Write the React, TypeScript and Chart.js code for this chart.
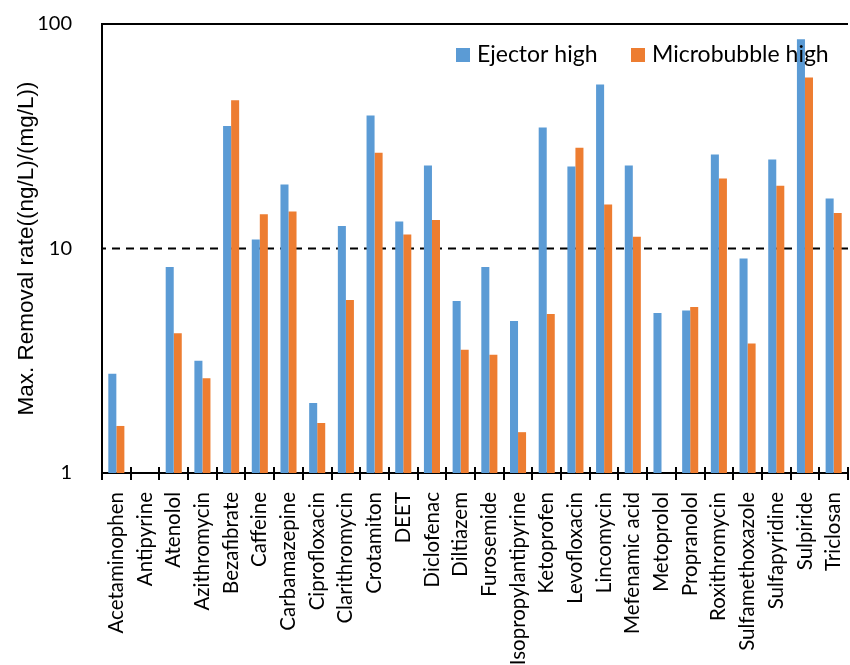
import React, { useEffect, useRef } from "react";
import { Chart, registerables } from "chart.js";

Chart.register(...registerables);

const categories = [
  "Acetaminophen", "Antipyrine", "Atenolol", "Azithromycin", "Bezafibrate",
  "Caffeine", "Carbamazepine", "Ciprofloxacin", "Clarithromycin", "Crotamiton",
  "DEET", "Diclofenac", "Diltiazem", "Furosemide", "Isopropylantipyrine",
  "Ketoprofen", "Levofloxacin", "Lincomycin", "Mefenamic acid", "Metoprolol",
  "Propranolol", "Roxithromycin", "Sulfamethoxazole", "Sulfapyridine", "Sulpiride",
  "Triclosan",
];

const ejectorHigh = [
  2.77, null, 8.28, 3.16, 35.1,
  10.97, 19.3, 2.05, 12.6, 39.1,
  13.2, 23.4, 5.84, 8.28, 4.76,
  34.6, 23.2, 53.8, 23.4, 5.16,
  5.29, 26.2, 9.03, 24.9, 85.5,
  16.7,
];

const microbubbleHigh = [
  1.62, null, 4.19, 2.64, 45.8,
  14.2, 14.6, 1.67, 5.9, 26.7,
  11.55, 13.4, 3.54, 3.36, 1.52,
  5.11, 28.1, 15.7, 11.28, null,
  5.49, 20.5, 3.77, 19.05, 57.8,
  14.4,
];

const yTicks = [1, 10, 100];
const thresholdValue = 10;
const seriesNames = ["Ejector high", "Microbubble high"];
const seriesColors = ["#5B9BD5", "#ED7D31"];

const FONT = "Lato";

const decorPlugin = {
  id: "decor",
  beforeDatasetsDraw(chart: any) {
    const { ctx, chartArea, scales } = chart;
    const y = scales.y.getPixelForValue(thresholdValue);
    ctx.save();
    ctx.strokeStyle = "#000";
    ctx.lineWidth = 2;
    ctx.setLineDash([8, 6]);
    ctx.lineDashOffset = -10;
    ctx.beginPath();
    ctx.moveTo(chartArea.left, y);
    ctx.lineTo(chartArea.right, y);
    ctx.stroke();
    ctx.restore();
  },
  afterDraw(chart: any) {
    const { ctx, chartArea } = chart;
    ctx.save();
    ctx.strokeStyle = "#000";
    ctx.lineWidth = 2;
    // top frame
    ctx.beginPath();
    ctx.moveTo(chartArea.left - 1, chartArea.top);
    ctx.lineTo(chartArea.right, chartArea.top);
    ctx.stroke();
    // category tick marks crossing the axis
    const n = categories.length;
    const step = (chartArea.right - chartArea.left) / n;
    for (let i = 0; i <= n; i++) {
      const px = Math.round(chartArea.left + i * step);
      ctx.beginPath();
      ctx.moveTo(px, chartArea.bottom - 6);
      ctx.lineTo(px, chartArea.bottom + 7);
      ctx.stroke();
    }
    // legend inside plot
    const items = [
      { x: 456, label: seriesNames[0], color: seriesColors[0] },
      { x: 631, label: seriesNames[1], color: seriesColors[1] },
    ];
    ctx.font = `23px ${FONT}`;
    ctx.textBaseline = "middle";
    ctx.textAlign = "left";
    for (const it of items) {
      ctx.fillStyle = it.color;
      ctx.fillRect(it.x, 48, 14, 14);
      ctx.fillStyle = "#000";
      ctx.fillText(it.label, it.x + 21, 55);
    }
    ctx.restore();
  },
};

export default function App() {
  const ref = useRef<HTMLCanvasElement>(null);

  useEffect(() => {
    if (!ref.current) return;
    const chart = new Chart(ref.current, {
      type: "bar",
      data: {
        labels: categories,
        datasets: [
          {
            label: seriesNames[0],
            data: ejectorHigh,
            backgroundColor: seriesColors[0],
            categoryPercentage: 0.56,
            barPercentage: 1,
          },
          {
            label: seriesNames[1],
            data: microbubbleHigh,
            backgroundColor: seriesColors[1],
            categoryPercentage: 0.56,
            barPercentage: 1,
          },
        ],
      },
      options: {
        responsive: false,
        animation: false,
        layout: { padding: { top: 24, right: 2, left: 0, bottom: 0 } },
        plugins: {
          legend: { display: false },
          tooltip: { enabled: false },
        },
        scales: {
          x: {
            type: "category",
            offset: true,
            grid: { display: false },
            border: { color: "#000", width: 2 },
            ticks: {
              color: "#000",
              font: { family: FONT, size: 20.5 },
              minRotation: 90,
              maxRotation: 90,
              autoSkip: false,
              padding: 11,
            },
            afterFit(s: any) {
              s.height = 192;
              s.paddingLeft = 0;
              s.paddingRight = 0;
            },
          },
          y: {
            type: "logarithmic",
            min: 1,
            max: 100,
            grid: { display: false },
            border: { color: "#000", width: 2 },
            afterBuildTicks(s: any) {
              s.ticks = yTicks.map((v) => ({ value: v }));
            },
            ticks: {
              color: "#000",
              font: { family: FONT, size: 20 },
              padding: 22,
              callback: (v: any) => String(v),
            },
            title: {
              display: true,
              text: "Max. Removal rate((ng/L)/(mg/L))",
              color: "#000",
              font: { family: "Liberation Sans", size: 22.5 },
              padding: { top: 13, bottom: 0 },
            },
            afterFit(s: any) {
              s.width = 102;
              s.paddingTop = 0;
              s.paddingBottom = 0;
            },
          },
        },
      },
      plugins: [decorPlugin],
    });
    return () => chart.destroy();
  }, []);

  return (
    <div style={{ position: "fixed", left: 0, top: 0, width: 850, height: 665, background: "#fff" }}>
      <canvas ref={ref} width={850} height={665} style={{ display: "block" }} />
    </div>
  );
}
